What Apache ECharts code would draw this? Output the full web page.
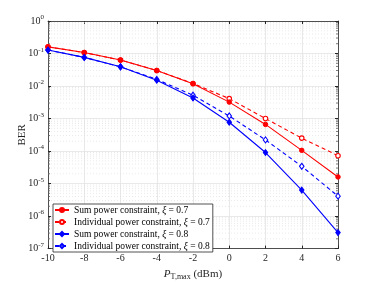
<!DOCTYPE html>
<html>
<head>
<meta charset="utf-8">
<script src="https://cdn.jsdelivr.net/npm/echarts@6/dist/echarts.min.js"></script>
<style>html,body{margin:0;padding:0;background:#fff;}#c{width:374px;height:286px;}</style>
</head>
<body>
<div id="c"></div>
<script>
var xValues = [-10, -8, -6, -4, -2, 0, 2, 4, 6];
var sum07 = [0.16, 0.107, 0.063, 0.030, 0.0117, 0.0032, 6.6e-4, 1.05e-4, 1.6e-5];
var ind07 = [0.16, 0.107, 0.063, 0.030, 0.0120, 0.0041, 1.0e-3, 2.5e-4, 7.2e-5];
var sum08 = [0.128, 0.076, 0.039, 0.0150, 0.0043, 7.7e-4, 9.0e-5, 6.3e-6, 3.1e-7];
var ind08 = [0.128, 0.076, 0.039, 0.0160, 0.0052, 1.2e-3, 2.2e-4, 3.4e-5, 4.1e-6];
var seriesNames = ['Sum power constraint, ξ = 0.7', 'Individual power constraint, ξ = 0.7', 'Sum power constraint, ξ = 0.8', 'Individual power constraint, ξ = 0.8'];
var xTicks = [-10, -8, -6, -4, -2, 0, 2, 4, 6];

var FONT = 'Liberation Serif';
var AX = '#262626';

function pairs(arr) { return xValues.map(function (x, i) { return [x, arr[i]]; }); }

var minorVals = [];
for (var k = -7; k < 0; k++) for (var m = 2; m <= 9; m++) minorVals.push([m * Math.pow(10, k)]);

function legendFmt(name) {
  var i = name.indexOf('ξ');
  return '{t|' + name.slice(0, i) + '}{i|ξ}{t|' + name.slice(i + 1) + '}';
}

var chart = echarts.init(document.getElementById('c'), null, {renderer: 'canvas'});
chart.setOption({
  animation: false,
  backgroundColor: '#fff',
  grid: {left: 48, right: 36, top: 21, bottom: 32},
  legend: {
    left: 53, top: 204, orient: 'vertical',
    backgroundColor: '#fff', borderColor: AX, borderWidth: 0.8, borderRadius: 0,
    padding: [1, 3, 1, 1], itemGap: 2, itemWidth: 14, itemHeight: 5,
    data: seriesNames,
    formatter: legendFmt,
    textStyle: {
      fontFamily: FONT, fontSize: 9.5, color: '#000',
      rich: {t: {fontFamily: FONT, fontSize: 9.5, color: '#000'}, i: {fontFamily: FONT, fontSize: 9.5, fontStyle: 'italic', color: '#000'}}
    }
  },
  xAxis: [{
    type: 'value', min: -10, max: 6, interval: 2,
    name: '{p|P}{s|T,max}{t| (dBm)}', nameLocation: 'middle', nameGap: 18,
    nameTextStyle: {rich: {
      p: {fontFamily: FONT, fontSize: 11, fontStyle: 'italic', color: AX},
      s: {fontFamily: FONT, fontSize: 8, color: AX, padding: [6, 0, 0, 0]},
      t: {fontFamily: FONT, fontSize: 11, color: AX}
    }},
    axisLine: {onZero: false, lineStyle: {color: AX, width: 0.8}},
    axisTick: {inside: true, length: 3, lineStyle: {color: AX}},
    axisLabel: {fontFamily: FONT, fontSize: 10, color: AX, margin: 5},
    splitLine: {show: true, lineStyle: {color: '#e3e3e3', width: 0.8}}
  }, {
    type: 'value', min: -10, max: 6, interval: 2, position: 'top',
    axisLine: {onZero: false, lineStyle: {color: AX, width: 0.8}},
    axisTick: {inside: true, length: 3, lineStyle: {color: AX}},
    axisLabel: {show: false}, splitLine: {show: false}
  }],
  yAxis: [{
    type: 'log', logBase: 10, min: 1e-7, max: 1, interval: 1,
    name: 'BER', nameLocation: 'middle', nameGap: 20, nameMoveOverlap: false,
    nameTextStyle: {fontFamily: FONT, fontSize: 11, color: AX},
    axisLine: {show: true, onZero: false, lineStyle: {color: AX, width: 0.8}},
    axisTick: {show: true, inside: true, length: 3, lineStyle: {color: AX}},
    axisLabel: {
      margin: 4,
      formatter: function (v) { var e = Math.round(Math.log10(v)); return '{b|10}{e|' + e + '}'; },
      rich: {
        b: {fontFamily: FONT, fontSize: 10, color: AX},
        e: {fontFamily: FONT, fontSize: 7, color: AX, verticalAlign: 'bottom', padding: [0, 0, 7, 0]}
      }
    },
    splitLine: {show: true, lineStyle: {color: '#e3e3e3', width: 0.8}}
  }, {
    type: 'log', logBase: 10, min: 1e-7, max: 1, interval: 1, position: 'right',
    axisLine: {show: true, onZero: false, lineStyle: {color: AX, width: 0.8}},
    axisTick: {show: true, inside: true, length: 3, lineStyle: {color: AX}},
    axisLabel: {show: false}, splitLine: {show: false}
  }],
  series: [{
    type: 'custom', silent: true, z: 1, clip: false,
    data: minorVals,
    encode: {y: 0},
    renderItem: function (params, api) {
      var v = api.value(0);
      var a = api.coord([-10, v]), b = api.coord([6, v]);
      return {type: 'group', children: [
        {type: 'line', shape: {x1: a[0], y1: a[1], x2: b[0], y2: b[1]}, style: {stroke: '#dcdcdc', lineWidth: 0.6, lineDash: [1, 2]}},
        {type: 'line', shape: {x1: a[0], y1: a[1], x2: a[0] + 2, y2: a[1]}, style: {stroke: AX, lineWidth: 0.6}},
        {type: 'line', shape: {x1: b[0], y1: b[1], x2: b[0] - 2, y2: b[1]}, style: {stroke: AX, lineWidth: 0.6}}
      ]};
    }
  }, {
    name: seriesNames[0], type: 'line', data: pairs(sum07), z: 5,
    symbol: 'circle', symbolSize: 4.5,
    lineStyle: {color: '#ff0000', width: 1.1, type: 'solid'},
    itemStyle: {color: '#ff0000', borderColor: '#ff0000', borderWidth: 1}
  }, {
    name: seriesNames[1], type: 'line', data: pairs(ind07), z: 4,
    symbol: 'circle', symbolSize: 4.5,
    lineStyle: {color: '#ff0000', width: 1.1, type: [4, 3]},
    itemStyle: {color: '#fff', borderColor: '#ff0000', borderWidth: 1.1}
  }, {
    name: seriesNames[2], type: 'line', data: pairs(sum08), z: 5,
    symbol: 'diamond', symbolSize: [4.5, 6],
    lineStyle: {color: '#0000ff', width: 1.1, type: 'solid'},
    itemStyle: {color: '#0000ff', borderColor: '#0000ff', borderWidth: 1}
  }, {
    name: seriesNames[3], type: 'line', data: pairs(ind08), z: 4,
    symbol: 'diamond', symbolSize: [4.5, 6],
    lineStyle: {color: '#0000ff', width: 1.1, type: [4, 3]},
    itemStyle: {color: '#fff', borderColor: '#0000ff', borderWidth: 1.1}
  }]
});
</script>
</body>
</html>
